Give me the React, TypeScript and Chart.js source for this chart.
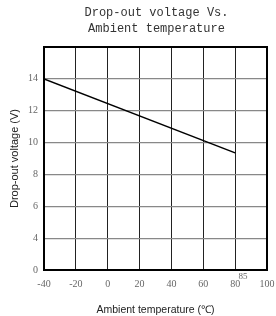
import React, { useEffect, useRef } from "react";
import { Chart, registerables } from "chart.js";

Chart.register(...registerables);

const titleLines = ["Drop-out voltage Vs.", "Ambient temperature"];
const xTitle = "Ambient temperature (\u2103)";
const yTitle = "Drop-out voltage (V)";
const temperatures = [-40, 80];
const voltages = [14, 9.35];
const xTicks = [-40, -20, 0, 20, 40, 60, 80, 100];
const yTickValues = [2, 4, 6, 8, 10, 12, 14, 16];
const yTickLabels = ["0", "4", "6", "8", "10", "12", "14", ""];
const extraXLabel = 85;

export default function App() {
  const ref = useRef<HTMLCanvasElement | null>(null);
  useEffect(() => {
    if (!ref.current) return;
    const framePlugin = {
      id: "frame",
      afterDraw(chart: any) {
        const { ctx, chartArea } = chart;
        ctx.save();
        ctx.strokeStyle = "#000";
        ctx.lineWidth = 2;
        ctx.strokeRect(chartArea.left, chartArea.top, chartArea.right - chartArea.left, chartArea.bottom - chartArea.top);
        // title
        ctx.fillStyle = "#333";
        ctx.font = "12px 'Liberation Mono'";
        ctx.textAlign = "center";
        ctx.textBaseline = "middle";
        const cx = (chartArea.left + chartArea.right) / 2 + 1;
        titleLines.forEach((t, i) => ctx.fillText(t, cx, 13 + i * 16));
        // extra 85 label
        const xs = chart.scales.x;
        ctx.font = "9px 'Liberation Serif'";
        ctx.fillStyle = "#666";
        ctx.fillText(String(extraXLabel), xs.getPixelForValue(extraXLabel), chartArea.bottom + 7);
        ctx.restore();
      },
    };
    const chart = new Chart(ref.current, {
      type: "line",
      data: {
        datasets: [
          {
            data: temperatures.map((t, i) => ({ x: t, y: voltages[i] })),
            borderColor: "#000",
            borderWidth: 1.5,
            pointRadius: 0,
            fill: false,
          },
        ],
      },
      options: {
        animation: false,
        responsive: true,
        maintainAspectRatio: false,
        layout: { padding: { top: 47, right: 9, bottom: 0, left: 0 } },
        plugins: { legend: { display: false }, tooltip: { enabled: false } },
        scales: {
          x: {
            type: "linear",
            min: -40,
            max: 100,
            afterBuildTicks: (s: any) => {
              s.ticks = xTicks.map((v) => ({ value: v }));
            },
            afterFit: (s: any) => {
              s.height = 46;
              s.paddingLeft = 0;
              s.paddingRight = 0;
            },
            grid: { color: "#222", lineWidth: 1, drawTicks: false },
            border: { display: false },
            ticks: {
              padding: 8,
              color: "#666",
              font: { family: "'Liberation Serif'", size: 10 },
              maxRotation: 0,
              callback: (v: any) => String(v),
            },
            title: {
              display: true,
              text: xTitle,
              color: "#222",
              font: { family: "'Liberation Sans'", size: 10.5 },
              padding: { top: 7, bottom: 0 },
            },
          },
          y: {
            type: "linear",
            min: 2,
            max: 16,
            afterBuildTicks: (s: any) => {
              s.ticks = yTickValues.map((v) => ({ value: v }));
            },
            afterFit: (s: any) => {
              s.width = 44;
              s.paddingTop = 0;
              s.paddingBottom = 0;
            },
            grid: { color: "#888", lineWidth: 1.2, drawTicks: false },
            border: { display: false },
            ticks: {
              padding: 6,
              color: "#666",
              font: { family: "'Liberation Serif'", size: 10 },
              callback: (v: any) => {
                const i = yTickValues.indexOf(Number(v));
                return i >= 0 ? yTickLabels[i] : "";
              },
            },
            title: {
              display: true,
              text: yTitle,
              color: "#222",
              font: { family: "'Liberation Sans'", size: 11 },
              padding: { top: 8, bottom: 0 },
            },
          },
        },
      },
      plugins: [framePlugin],
    });
    return () => chart.destroy();
  }, []);
  return (
    <div style={{ position: "absolute", left: 0, top: 0, width: 276, height: 316, background: "#fff" }}>
      <canvas ref={ref} />
    </div>
  );
}
